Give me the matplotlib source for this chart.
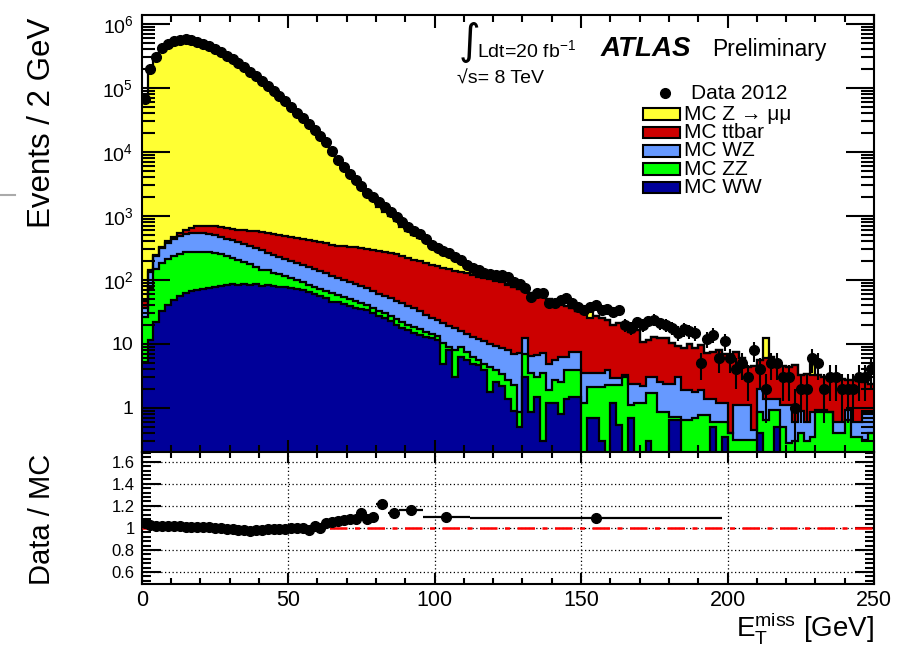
import numpy as np
import matplotlib
matplotlib.use('Agg')
from matplotlib import pyplot as plt
from matplotlib.patches import Rectangle
from matplotlib.lines import Line2D
from matplotlib.ticker import MultipleLocator, FixedLocator, FuncFormatter, NullFormatter

plt.rcParams['font.family'] = ['Liberation Sans', 'DejaVu Sans']
plt.rcParams['mathtext.fontset'] = 'custom'
plt.rcParams['mathtext.rm'] = 'Liberation Sans'
plt.rcParams['mathtext.it'] = 'Liberation Sans:italic'
plt.rcParams['mathtext.bf'] = 'Liberation Sans:bold'

# binning: 2 GeV bins from 0 to 250
edges = np.arange(0, 252, 2)
centers = edges[:-1] + 1

# MC components (events per bin), bottom to top of the stack
mc_ww = [5.2, 11.5, 22, 33, 40, 48, 56, 62, 67, 70,
         72, 75, 77, 80, 83, 86, 84, 87, 83, 85,
         81, 83, 80, 77, 77, 75, 72, 70, 65, 60,
         56, 52, 46, 45, 42, 39, 37, 35, 34, 30,
         27, 25, 22.5, 20, 18, 16.5, 15, 13.8, 12.8, 12.3,
         11.5, 4.9, 8, 3.1, 6.3, 5.6, 4.9, 4.7, 3.9, 1.8,
         2.5, 2.2, 1.4, 0.9, 0.5, 3.0, 0.85, 1.5, 0.3, 1.2,
         1.2, 0.8, 1.4, 1.5, 1.5, 0, 0.7, 0.7, 0.3, 0,
         1.2, 0.55, 0, 0.7, 0, 0, 0.3, 0, 0, 0,
         0.65, 0.65, 0, 0, 0, 0, 0, 0.5, 0, 0.35,
         0, 0, 0, 0, 0, 0.4, 0, 0, 0.5, 0,
         0, 0, 0, 0, 0, 0, 0, 0, 0, 0,
         0, 0, 0, 0, 0]
mc_zz = [20.8, 63.5, 128, 152, 175, 192, 202, 208, 209, 208,
         206, 197, 185, 170, 152, 134, 118, 104, 92, 72,
         64, 60, 50, 46, 38, 32, 28, 23, 18, 17,
         16, 15, 16, 13, 12, 11, 10, 9, 6.5, 6.5,
         6, 5, 4.5, 4.5, 4, 3.3, 3.5, 3.2, 2.7, 2.2,
         2.0, 5.5, 1.0, 4.9, 2.7, 1.9, 1.4, 0.9, 1.0, 2.6,
         1.4, 1.2, 1.3, 1.4, 0.35, 4.0, 2.65, 1.6, 3.2, 0.7,
         1.5, 1.7, 2.5, 2.4, 2.4, 1.2, 1.4, 1.4, 1.8, 2.3,
         1.1, 1.75, 3.1, 0.4, 1.2, 1.2, 1.4, 1.7, 0.87, 0.87,
         0.07, 0.07, 0.65, 0.65, 0.7, 0.78, 0.78, 0.1, 0.6, 0.25,
         0.4, 0.32, 0.32, 0.32, 0.32, 0.45, 0.65, 0.93, 0.43, 0.5,
         0.28, 0.3, 0.4, 0.3, 0.35, 0.85, 0.85, 0.85, 0.4, 0.4,
         0.65, 0.35, 0.35, 0.32, 0.4]
mc_wz = [11, 58, 85, 131, 165, 197, 227, 252, 264, 262,
         262, 250, 242, 220, 202, 201, 189, 175, 165, 158,
         146, 125, 112, 105, 97, 90, 83, 77, 75, 70,
         65, 61, 53, 49, 46, 43, 39, 36, 34.5, 30.5,
         27, 26, 25, 22.5, 22, 19.2, 17.5, 16, 12.5, 11,
         10.2, 11, 10, 9.8, 7, 6.8, 6.5, 6.3, 6.2, 5.6,
         5.4, 5.3, 5.3, 4.7, 6.35, 5.3, 3.0, 3.6, 3.7, 3.0,
         2.9, 3.8, 2.4, 3.6, 3.6, 2.3, 1.4, 1.4, 1.4, 1.6,
         0.6, 0.6, 0.2, 1.3, 1.2, 1.0, 1.4, 1.4, 1.63, 1.53,
         1.68, 2.28, 1.25, 1.25, 1.1, 1.12, 0.62, 0.8, 0.6, 0.6,
         0, 0.78, 0.78, 0.78, 0.13, 1.15, 0.75, 0.47, 0.47, 0.6,
         0.82, 0.3, 0.5, 0.3, 0.5, 0.08, 0.08, 0, 0.2, 0.2,
         0.28, 0.25, 0.25, 0.53, 0.45]
mc_ttbar = [10, 8, 12, 16, 20, 30, 60, 90, 120, 145,
            165, 178, 188, 198, 207, 214, 222, 235, 248, 260,
            269, 277, 277, 276, 274, 273, 270, 267, 263, 259,
            256, 244, 242, 238, 238, 239, 240, 236, 234, 231,
            221, 215, 210, 203, 192, 181, 172, 164, 155, 147,
            140, 132, 128, 122, 117, 114, 106, 101, 96, 93,
            87, 84, 75, 70, 65, 55, 55, 51, 47, 45,
            39, 36, 33, 28.5, 25.5, 27.5, 21.5, 23.5, 21.5, 19.8,
            16.9, 18.5, 14.5, 12.9, 14.1, 8.4, 8.4, 9.7, 9.8, 9.9,
            8.0, 6.3, 6.8, 8.1, 6.9, 7.7, 5.8, 6.1, 6.8, 5.8,
            6.3, 6.4, 4.9, 3.3, 4.05, 3.6, 4.6, 4.9, 3.8, 3.4,
            3.3, 4.1, 2.4, 2.8, 2.45, 2.37, 2.17, 2.05, 2.3, 2.2,
            1.77, 2.1, 2.0, 1.65, 1.55]
mc_zmumu = [64750, 193800, 295700, 413400, 480900, 528600, 553100, 567600, 555700, 520100,
            486400, 444100, 406300, 362300, 316900, 284200, 246900, 216700, 181800, 157600,
            130400, 108100, 89600, 74200, 62000, 49700, 40750, 33900, 27600, 21600,
            17400, 13470, 9580, 6800, 5040, 3890, 3020, 2290, 1810, 1470,
            1090, 864, 751, 593, 448, 363, 300, 256, 215, 151,
            124, 110, 93, 69, 55, 38, 15, 6, 3, 5,
            2, 4, 3, 2, 1, 0, 0, 0, 0, 0,
            0, 0, 0, 0, 0, 0, 9, 0, 0, 0,
            0, 0, 0, 0, 0, 0, 0, 0, 0, 0,
            0, 0, 0, 0, 0, 0, 0, 0, 0, 0,
            0, 0, 0, 0, 0, 0, 6.5, 0, 0, 0,
            0, 0, 0, 0, 1.7, 0, 0, 0, 0, 0,
            0, 0, 0, 0, 0]

# data 2012 (events per bin)
data = [67600, 200000, 302000, 422000, 490000, 537000, 562000, 575000, 562000, 525000,
        490000, 447000, 407000, 363000, 316000, 282000, 245000, 214000, 178000, 155000,
        129000, 107000, 89000, 74000, 62000, 50000, 41000, 34000, 27500, 22400,
        17800, 14500, 10500, 7600, 5750, 4570, 3630, 2950, 2290, 1950,
        1660, 1380, 1148, 955, 794, 676, 589, 525, 437, 355,
        316, 288, 263, 229, 204, 170, 155, 145, 129, 123,
        120, 120, 112, 93, 87, 74, 54, 63, 63, 44,
        44, 48, 52, 44, 38, 34, 38, 41, 34, 35,
        32, 34, 20, 18, 22, 20, 23, 24, 21, 20,
        18, 15, 17, 16, 15, 5, 12, 14, 6, 11,
        6, 4, 5, 3, 8, 4, 2, 5, 5, 3,
        3, 1, 2, 2, 6, 5, 2, 3, 3, 2,
        2, 2, 3, 3, 4]

# data / MC ratio, variable bins
ratio_edges = np.concatenate([np.arange(0, 82, 2), [84, 88, 96, 112, 198]])
ratio_vals = [1.043, 1.025, 1.02, 1.018, 1.018, 1.016, 1.015, 1.012, 1.01, 1.008,
              1.006, 1.005, 1.0, 0.998, 0.994, 0.99, 0.985, 0.98, 0.976, 0.978,
              0.982, 0.986, 0.988, 0.99, 0.994, 0.997, 0.997, 0.995, 0.982, 1.018,
              1.0, 1.048, 1.057, 1.064, 1.07, 1.082, 1.085, 1.133, 1.079, 1.103,
              1.215, 1.133, 1.16, 1.097, 1.088]
ratio_ticks = [0.6, 0.8, 1.0, 1.2, 1.4, 1.6]
ratio_ticklabels = ['0.6', '0.8', '1', '1.2', '1.4', '1.6']
main_ticks = [1, 10, 1e2, 1e3, 1e4, 1e5, 1e6]

labels = ['MC WW', 'MC ZZ', 'MC WZ', 'MC ttbar', 'MC Z \u2192 \u03bc\u03bc']
colors = ['#000099', '#00ff00', '#6699ff', '#cc0000', '#ffff33']

fig = plt.figure(figsize=(9.21, 6.46), dpi=100)
ax = fig.add_axes([141.7 / 921, 1 - 452 / 646, 732.3 / 921, 437 / 646])
ax2 = fig.add_axes([141.7 / 921, 1 - 584 / 646, 732.3 / 921, 132 / 646], sharex=ax)

# stacked histogram
stack = np.vstack([mc_ww, mc_zz, mc_wz, mc_ttbar, mc_zmumu])
cum = np.cumsum(stack, axis=0)
floor = 1e-3
lower = np.full(len(centers), floor)
for k in range(len(stack)):
    top = np.maximum(cum[k], floor)
    ax.stairs(top, edges, baseline=lower, fill=True, color=colors[k], lw=0)
    lower = top
for k in range(len(stack)):
    ax.stairs(np.maximum(cum[k], floor), edges, baseline=None, color='black', lw=1.6)

# data points with poisson errors
d = np.array(data, dtype=float)
err = np.sqrt(d)
err_lo = np.minimum(err, d - floor)
ax.errorbar(centers, d, yerr=[err_lo, err], fmt='o', color='black', ms=7,
            elinewidth=1.5, capsize=0, zorder=5)

ax.set_yscale('log')
ax.set_xlim(0, 250)
ax.set_ylim(0.205, 1.38e6)


def log_label(v, pos):
    if abs(v - 1) < 1e-9:
        return '1'
    if abs(v - 10) < 1e-9:
        return '10'
    return r'$10^{%d}$' % round(np.log10(v))


# minor ticks only inside the shown range
minor = [m * 10.0 ** e for e in range(-1, 7) for m in range(2, 10)]
minor = [v for v in minor if 0.205 < v < 1.38e6]
ax.yaxis.set_major_locator(FixedLocator(main_ticks))
ax.yaxis.set_minor_locator(FixedLocator(minor))
ax.yaxis.set_major_formatter(FuncFormatter(log_label))
ax.yaxis.set_minor_formatter(NullFormatter())
ax.xaxis.set_major_locator(MultipleLocator(50))
ax.xaxis.set_minor_locator(MultipleLocator(10))
ax.tick_params(which='both', direction='in', top=True, right=True, width=1.5,
               labelbottom=False, labelsize=14)
ax.tick_params(which='minor', labelleft=False)
ax.tick_params(axis='y', which='major', length=20, pad=6)
ax.tick_params(axis='y', which='minor', length=9.5)
ax.tick_params(axis='x', which='major', length=9)
ax.tick_params(axis='x', which='minor', length=5)
for s in ax.spines.values():
    s.set_linewidth(1.5)

# ratio panel
rc = (ratio_edges[:-1] + ratio_edges[1:]) / 2
rxe = (ratio_edges[1:] - ratio_edges[:-1]) / 2
ax2.grid(True, which='major', ls=(0, (1, 2)), color='black', lw=0.9)
ax2.axhline(1.0, color='red', lw=1.8, dashes=(7, 3, 2, 3), zorder=3)
ax2.errorbar(rc, ratio_vals, xerr=rxe, fmt='o', color='black', ms=7,
             elinewidth=1.6, capsize=0, zorder=5)
ax2.set_ylim(0.49, 1.69)
ax2.set_yticks(ratio_ticks)
ax2.set_yticklabels(ratio_ticklabels)
ax2.yaxis.set_minor_locator(MultipleLocator(0.04))
ax2.xaxis.set_major_locator(MultipleLocator(50))
ax2.xaxis.set_minor_locator(MultipleLocator(10))
ax2.tick_params(which='both', direction='in', top=True, right=True, width=1.5)
ax2.tick_params(which='minor', labelleft=False, labelbottom=False)
ax2.tick_params(axis='y', which='major', length=14, labelsize=12, pad=5)
ax2.tick_params(axis='y', which='minor', length=6.5)
ax2.tick_params(axis='x', which='major', length=8, labelsize=15.5, pad=4)
ax2.tick_params(axis='x', which='minor', length=4)
for s in ax2.spines.values():
    s.set_linewidth(1.5)

# axis titles
fig.text(42 / 921, 1 - 123 / 646, 'Events / 2 GeV', rotation=90, ha='center', va='center', fontsize=22.5)
fig.text(42 / 921, 1 - 519 / 646, 'Data / MC', rotation=90, ha='center', va='center', fontsize=21)
fig.text(874 / 921, 1 - 628 / 646, r'E$_{\mathrm{T}}^{\mathrm{miss}}$ [GeV]', ha='right', va='center',
         fontsize=20)

# labels on the plot
ax.text(0.447, 0.939, '\u222b', transform=ax.transAxes, ha='center', va='center', fontsize=30,
        family='DejaVu Sans')
ax.text(0.4574, 0.9046, r'Ldt=20 fb$^{\mathregular{-1}}$', transform=ax.transAxes, fontsize=14)
ax.text(0.4305, 0.844, '\u221as= 8 TeV', transform=ax.transAxes, fontsize=14)
ax.text(0.626, 0.906, 'ATLAS', transform=ax.transAxes, fontsize=20, fontweight='bold', style='italic')
ax.text(0.7785, 0.906, 'Preliminary', transform=ax.transAxes, fontsize=16.5)

# legend
ax.plot([0.7148], [0.8208], 'o', color='black', ms=7, transform=ax.transAxes, clip_on=False)
ax.text(0.7497, 0.8208, 'Data 2012', transform=ax.transAxes, va='center', fontsize=15)
row_y = [0.773, 0.731, 0.689, 0.647, 0.605]
for k, y in zip([4, 3, 2, 1, 0], row_y):
    ax.add_patch(Rectangle((0.6846, y - 0.0134), 0.0511, 0.0268, transform=ax.transAxes,
                           facecolor=colors[k], edgecolor='black', lw=1.5, zorder=6))
    ax.text(0.7406, y, labels[k], transform=ax.transAxes, va='center', fontsize=15)

fig.add_artist(Line2D([0, 15 / 921], [1 - 195 / 646, 1 - 195 / 646], color='#aaaaaa', lw=1.5))

fig.savefig('out.png', dpi=100)
